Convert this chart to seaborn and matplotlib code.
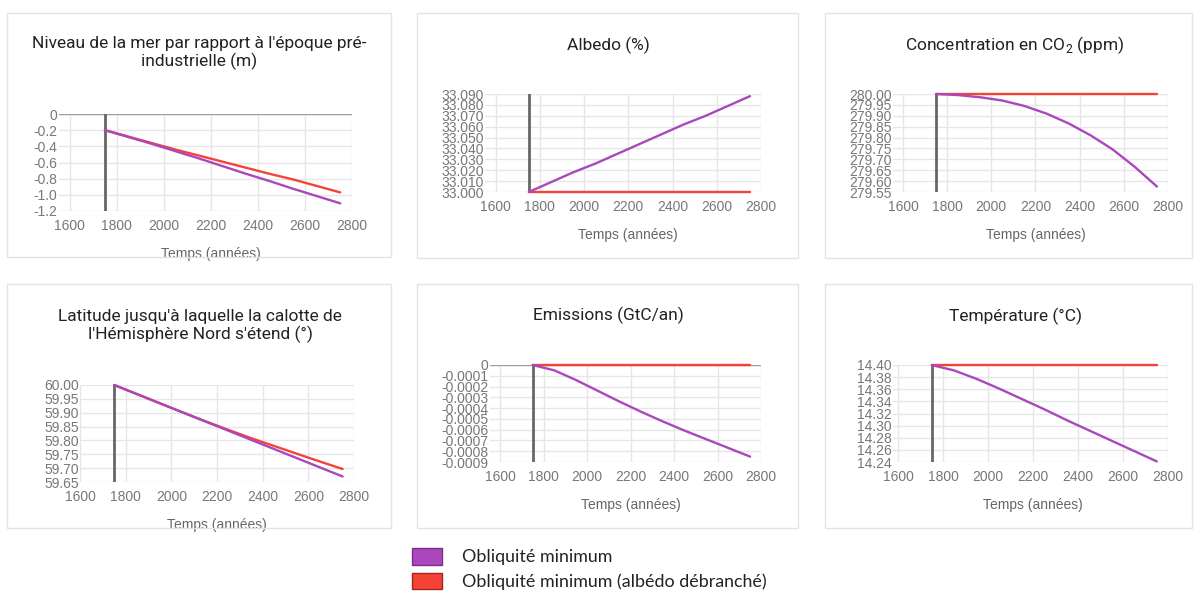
import matplotlib
matplotlib.use("Agg")
import matplotlib.pyplot as plt
from matplotlib.patches import Rectangle, Patch
from matplotlib.ticker import FuncFormatter
import seaborn as sns

# simulated years
years = [1750, 1850, 1950, 2050, 2150, 2250, 2350, 2450, 2550, 2650, 2750]

# "Obliquité minimum" / "... (albédo débranché)"
sea_min = [-0.20, -0.285, -0.37, -0.46, -0.55, -0.645, -0.74, -0.83, -0.925, -1.015, -1.105]
sea_off = [-0.20, -0.28, -0.36, -0.44, -0.515, -0.59, -0.665, -0.74, -0.81, -0.89, -0.97]

albedo_min = [33.000, 33.009, 33.018, 33.026, 33.035, 33.044, 33.053, 33.062, 33.070, 33.079, 33.088]
albedo_off = [33.000] * 11

co2_min = [280.00, 279.995, 279.985, 279.97, 279.945, 279.91, 279.865, 279.81, 279.745, 279.665, 279.575]
co2_off = [280.00] * 11

lat_min = [60.00, 59.967, 59.934, 59.901, 59.868, 59.835, 59.802, 59.769, 59.736, 59.703, 59.670]
lat_off = [60.00, 59.967, 59.934, 59.901, 59.869, 59.838, 59.808, 59.780, 59.752, 59.724, 59.697]

emis_min = [0.0, -0.00005, -0.00014, -0.00024, -0.00034, -0.000435, -0.000525, -0.00061, -0.00069, -0.00077, -0.00085]
emis_off = [0.0] * 11

temp_min = [14.400, 14.391, 14.377, 14.361, 14.344, 14.327, 14.309, 14.292, 14.275, 14.258, 14.241]
temp_off = [14.40] * 11

series_labels = ["Obliquité minimum", "Obliquité minimum (albédo débranché)"]
colors = ["#ab47bc", "#f44336"]
x_ticks = [1600, 1800, 2000, 2200, 2400, 2600, 2800]

W, H = 1195, 594

sns.set_style("white")
plt.rcParams["font.family"] = ["Liberation Sans", "DejaVu Sans"]
plt.rcParams["axes.unicode_minus"] = False
plt.rcParams["mathtext.fontset"] = "custom"
plt.rcParams["mathtext.rm"] = "Roboto"

fig = plt.figure(figsize=(W / 100, H / 100), dpi=100)
fig.patch.set_facecolor("white")


def fmt_zero(dec):
    return FuncFormatter(lambda v, p: "0" if abs(v) < 1e-12 else f"{v:.{dec}f}")


def fmt_fixed(dec):
    return FuncFormatter(lambda v, p: f"{v:.{dec}f}")


# rect = (left, right, top, bottom) of the plot area in pixels, x0 = its left year
panels = [
    dict(title="Niveau de la mer par rapport à l'époque pré-\nindustrielle (m)",
         ymin=sea_min, yoff=sea_off, ylim=(-1.2, 0), step=0.2, fmt=fmt_zero(1),
         rect=(59, 352, 114, 211), card=(7, 391, 13, 257), txy=(199, 53), x0=1555, base=True),
    dict(title="Albedo (%)",
         ymin=albedo_min, yoff=albedo_off, ylim=(33.0, 33.09), step=0.01, fmt=fmt_fixed(3),
         rect=(485, 761, 94, 192), card=(417, 798, 13, 258), txy=(608, 45), x0=1552, base=False),
    dict(title=r"Concentration en CO$_\mathrm{2}$ (ppm)",
         ymin=co2_min, yoff=co2_off, ylim=(279.55, 280.0), step=0.05, fmt=fmt_fixed(2),
         rect=(893, 1168, 94, 192), card=(825, 1192, 13, 258), txy=(1015, 45), x0=1555, base=False),
    dict(title="Latitude jusqu'à laquelle la calotte de\nl'Hémisphère Nord s'étend (°)",
         ymin=lat_min, yoff=lat_off, ylim=(59.65, 60.0), step=0.05, fmt=fmt_fixed(2),
         rect=(80, 354, 385, 482), card=(7, 391, 284, 528), txy=(200, 326), x0=1600, base=False),
    dict(title="Emissions (GtC/an)",
         ymin=emis_min, yoff=emis_off, ylim=(-0.0009, 0), step=0.0001, fmt=fmt_zero(4),
         rect=(490, 761, 365, 462), card=(417, 798, 284, 528), txy=(608, 315), x0=1554, base=True),
    dict(title="Température (°C)",
         ymin=temp_min, yoff=temp_off, ylim=(14.24, 14.40), step=0.02, fmt=fmt_fixed(2),
         rect=(893, 1168, 365, 462), card=(825, 1192, 284, 528), txy=(1015, 316), x0=1578, base=False),
]

for p in panels:
    cl, cr, ct, cb = p["card"]
    fig.add_artist(Rectangle((cl / W, 1 - cb / H), (cr - cl) / W, (cb - ct) / H,
                             transform=fig.transFigure, fill=False, ec="#e3e3e3", lw=1))

    l, r, t, b = p["rect"]
    ax = fig.add_axes([l / W, 1 - b / H, (r - l) / W, (b - t) / H])
    ax.set_facecolor("none")

    lo, hi = p["ylim"]
    n = int(round((hi - lo) / p["step"]))
    yticks = [lo + i * p["step"] for i in range(n + 1)]

    ax.axvline(years[0], color="#666666", lw=2, zorder=2)
    if p["base"]:
        ax.axhline(0, color="#9e9e9e", lw=1, zorder=1.5)

    sns.lineplot(x=years, y=p["yoff"], ax=ax, color=colors[1], lw=1.7, clip_on=False, zorder=3)
    sns.lineplot(x=years, y=p["ymin"], ax=ax, color=colors[0], lw=1.7, clip_on=False, zorder=4)

    ax.set_xlim(p["x0"], 2800)
    ax.set_ylim(lo, hi)
    ax.set_xticks(x_ticks)
    ax.set_yticks(yticks)
    ax.yaxis.set_major_formatter(p["fmt"])
    ax.grid(True, color="#e6e6e6", lw=1)
    ax.set_axisbelow(True)
    for s in ax.spines.values():
        s.set_visible(False)
    ax.tick_params(axis="both", length=0, colors="#777777", labelsize=10)
    ax.tick_params(axis="x", pad=6)
    ax.tick_params(axis="y", pad=1)

    ax.set_xlabel("Temps (années)", fontsize=10, color="#666666")
    ax.xaxis.label.set_va("center")
    ax.xaxis.set_label_coords(0.5 + (1600 - p["x0"]) / (2800 - p["x0"]) / 2, -43 / (b - t))
    ax.set_ylabel("")

    tx, ty = p["txy"]
    fig.text(tx / W, 1 - ty / H, p["title"], ha="center", va="center",
             fontsize=12.5, color="#222222", family="Roboto", linespacing=1.2)

handles = [Patch(fc=colors[0], ec="#7a2e8c", lw=1), Patch(fc=colors[1], ec="#a3261c", lw=1)]
fig.legend(handles, series_labels, loc="upper left", bbox_to_anchor=(412 / W, 1 - 548 / H),
           frameon=False, prop={"family": "Lato", "size": 12.9}, handlelength=1.65,
           handleheight=1.05, handletextpad=1.15, labelspacing=0.4, borderpad=0,
           borderaxespad=0, labelcolor="#222222")

fig.savefig("out.png", dpi=100, facecolor="white")
